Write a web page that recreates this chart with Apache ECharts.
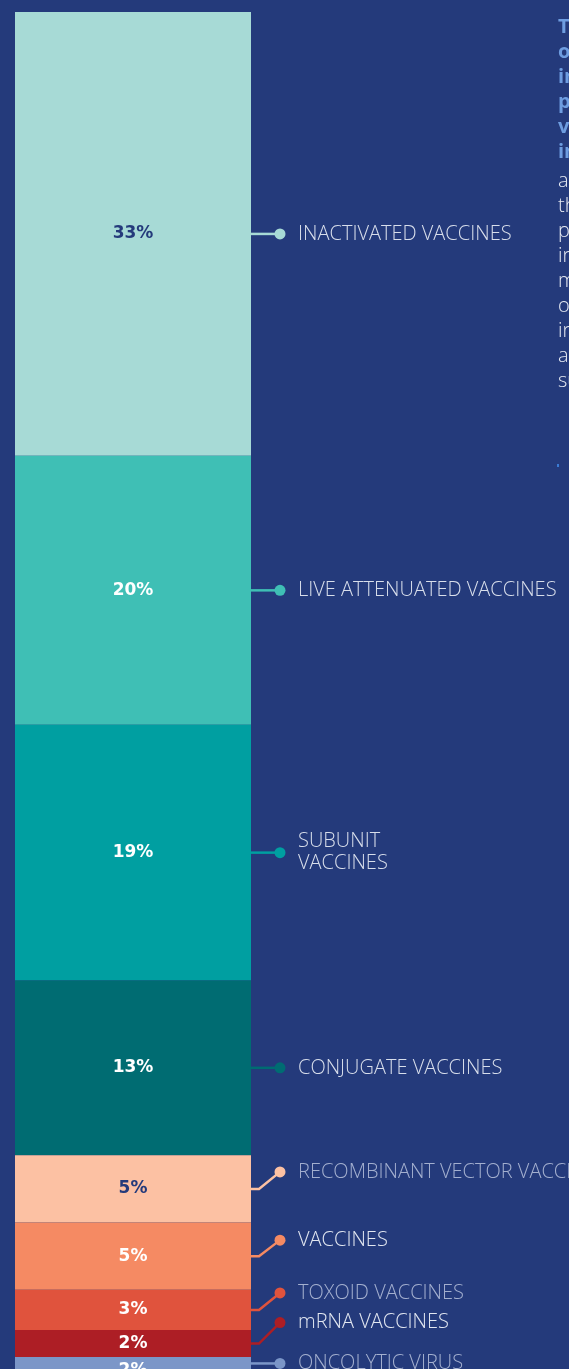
<!DOCTYPE html>
<html>
<head>
<meta charset="utf-8">
<script src="https://cdn.jsdelivr.net/npm/echarts@6/dist/echarts.min.js"></script>
<style>
  html, body { margin: 0; padding: 0; background: #243a7b; overflow: hidden; }
  #chart { width: 569px; height: 1400px; }
</style>
</head>
<body>
<div id="chart"></div>
<script>
// data
var names = ['INACTIVATED VACCINES', 'LIVE ATTENUATED VACCINES', 'SUBUNIT\nVACCINES', 'CONJUGATE VACCINES',
  'RECOMBINANT VECTOR VACCINES', 'VACCINES', 'TOXOID VACCINES', 'mRNA VACCINES', 'ONCOLYTIC VIRUS']
var shares = [33, 20, 19, 13, 5, 5, 3, 2, 2]
var colors = ['#a7dad6', '#3fbfb5', '#009fa1', '#006c72', '#fcc1a3', '#f58a63', '#e0533d', '#ad1e25', '#7b96c8']
var pctColors = ['#243a7b', '#ffffff', '#ffffff', '#ffffff', '#243a7b', '#ffffff', '#ffffff', '#ffffff', '#ffffff']
var nameColors = ['#d8deeb', '#d8deeb', '#d8deeb', '#d8deeb', '#a3afcf', '#e2e7f1', '#a3afcf', '#e2e7f1', '#a3afcf']
// label nudges (px) so small slices don't collide
var labelShift = [0, 0, 0, 0, -17, -16, -17, -21, -7]

var introBold = ['The majority', 'of products', 'in the', 'pipeline are', 'vaccines,', 'including']
var introText = ['and', 'therapeutic', 'preventive', 'infectious', 'more', 'of', 'in', 'and', 'such']

var total = shares.reduce((a, b) => a + b, 0)
var chart = echarts.init(document.getElementById('chart'))

var series = shares.map((v, i) => ({
  name: names[i],
  type: 'bar',
  stack: 'all',
  barWidth: '100%',
  data: [v],
  itemStyle: { color: colors[i] },
  label: {
    show: true,
    position: 'inside',
    formatter: v + '%',
    color: pctColors[i],
    fontFamily: 'DejaVu Sans',
    fontWeight: 'bold',
    fontSize: 17
  }
}))

chart.setOption({
  backgroundColor: '#243a7b',
  animation: false,
  grid: { left: 15, top: 12, width: 236, height: total * 13.45 },
  xAxis: { type: 'category', data: ['share'], show: false },
  yAxis: { type: 'value', inverse: true, min: 0, max: total, show: false },
  series: series
})

// connectors and names placed from the axis scale
var gfx = []
var barRight = 251
var acc = 0
shares.forEach((v, i) => {
  var cy = chart.convertToPixel({ gridIndex: 0 }, [0, acc + v / 2])[1]
  acc += v
  var dy = cy + labelShift[i]
  var pts = Math.abs(labelShift[i]) < 10
    ? [[barRight, dy], [280, dy]]
    : [[barRight, cy], [259, cy], [280, dy]]
  gfx.push({ type: 'polyline', shape: { points: pts }, style: { stroke: colors[i], lineWidth: 2.5, fill: null } })
  gfx.push({ type: 'circle', shape: { cx: 280, cy: dy, r: 5.5 }, style: { fill: colors[i] } })
  gfx.push({
    type: 'text', x: 298, y: dy,
    style: { text: names[i], fill: nameColors[i], font: '300 20px "Open Sans"', verticalAlign: 'middle', lineHeight: 22 }
  })
})

// intro paragraph at the right edge (mostly cut off)
introBold.forEach((t, i) => {
  gfx.push({ type: 'text', x: 558, y: 27 + i * 25,
    style: { text: t, fill: '#6e9de0', font: 'bold 20px "Open Sans"', verticalAlign: 'middle' } })
})
introText.forEach((t, i) => {
  gfx.push({ type: 'text', x: 558, y: 181 + i * 25,
    style: { text: t, fill: '#e6eaf3', font: '300 20px "Open Sans"', verticalAlign: 'middle' } })
})
gfx.push({ type: 'rect', shape: { x: 557, y: 464, width: 2, height: 3 }, style: { fill: '#3a7bd5' } })

chart.setOption({ graphic: gfx })
</script>
</body>
</html>
